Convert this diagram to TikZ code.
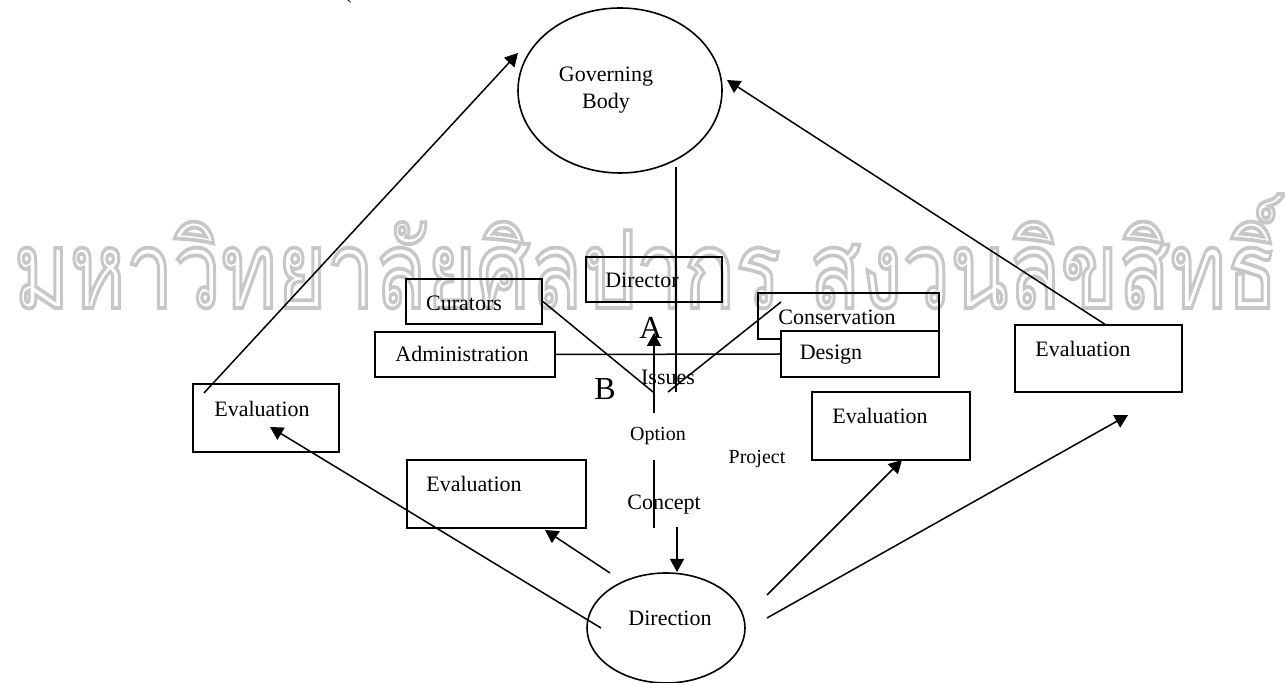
\documentclass[tikz,border=0pt]{standalone}
\usepackage{fontspec}
\setmainfont{Liberation Serif}
\newfontfamily\thaifont[Script=Thai]{Loma}
\usetikzlibrary{arrows.meta,shapes.geometric}

\begin{document}
\begin{tikzpicture}[x=0.5pt, y=-0.5pt, line width=0.75pt,
    >={Triangle[length=6.5pt,width=7pt]},
    boxsize/.style 2 args={minimum width=#1*0.5pt, minimum height=#2*0.5pt},
    box/.style={draw, rectangle, line width=0.85pt, inner sep=0pt},
    oval/.style={draw, ellipse, line width=0.8pt, inner sep=0pt},
    txt/.style={inner sep=0pt, font=\fontsize{11}{13.5}\selectfont},
    small/.style={inner sep=0pt, font=\fontsize{10}{12}\selectfont},
    big/.style={inner sep=0pt, font=\fontsize{16}{18}\selectfont}]

\useasboundingbox[fill=white] (0,0) rectangle (1285,683);

    % watermark
    \node[inner sep=0pt, anchor=base west, text=black!22] (mark) at (13,308)
        {\resizebox{632pt}{57pt}{\special{pdf:literal direct 1 Tr 0.35 w}\thaifont มหาวิทยาลัยศิลปากร สงวนลิขสิทธิ์\special{pdf:literal direct 0 Tr}}};
    \node[txt, anchor=base] (paren) at (348,-1) {(};

    % ovals
    \node[oval, boxsize={204}{165}] (gov) at (620,90.5) {};
    \node[txt, align=center] (govtext) at (606,90) {Governing\\Body};
    \node[oval, boxsize={158}{110}] (dirn) at (666,628) {};
    \node[txt] (dirntext) at (670,618) {Direction};

    % boxes
    \node[box, boxsize={136}{45}] (director) at (654,279.5) {};
    \node[txt] (directortext) at (642,280) {Director};
    \node[box, boxsize={136}{45}] (curators) at (474,301.5) {};
    \node[txt] (curatorstext) at (464,303) {Curators};
    \node[box, boxsize={180}{45}] (admin) at (465,354.5) {};
    \node[txt] (admintext) at (462,354) {Administration};
    \node[box, boxsize={181}{46}] (conserv) at (848.5,316) {};
    \node[txt] (conservtext) at (837,317) {Conservation};
    \node[box, fill=white, boxsize={158}{46}] (design) at (860,354) {};
    \node[txt] (designtext) at (831,355) {Design};

    \node[box, boxsize={146}{68}] (evalL) at (266,418) {};
    \node[txt] (evalLtext) at (262,409) {Evaluation};
    \node[box, boxsize={179}{68}] (evalM) at (496.5,494) {};
    \node[txt] (evalMtext) at (474,484) {Evaluation};
    \node[box, boxsize={158}{68}] (evalR) at (891,426) {};
    \node[txt] (evalRtext) at (880,416) {Evaluation};
    \node[box, boxsize={167}{67}] (evalTop) at (1098.5,358.5) {};
    \node[txt] (evalToptext) at (1083,349) {Evaluation};

    % labels in the middle
    \node[big] (labA) at (651,328) {A};
    \node[big] (labB) at (605,389) {B};
    \node[txt] (issues) at (668,377) {Issues};
    \node[small] (option) at (658,436) {Option};
    \node[txt] (concept) at (664,505) {Concept};
    \node[small] (project) at (757,459) {Project};

    % end points
    \coordinate (govfoot) at (676,167);
    \coordinate (hub) at (676,392);
    \coordinate (issL) at (653,392);
    \coordinate (issR) at (668,392);
    \coordinate (consL) at (781,302);
    \coordinate (optup) at (654,413);
    \coordinate (arrA) at (654,333);
    \coordinate (optdown) at (654,460);
    \coordinate (condown) at (654,528);
    \coordinate (conarr) at (677,527);
    \coordinate (dirtop) at (677,572);
    \coordinate (evLfoot) at (204,393);
    \coordinate (govW) at (518,53);
    \coordinate (evTfoot) at (1106,325);
    \coordinate (govE) at (727,80);
    \coordinate (dirL) at (601,628);
    \coordinate (dirUL) at (610,573);
    \coordinate (dirUR) at (767,595);
    \coordinate (dirR) at (767,618);
    \coordinate (tipL) at (270,427);
    \coordinate (tipM) at (545,530);
    \coordinate (tipR) at (902,460);
    \coordinate (tipFar) at (1128,415);

    % lines
    \draw (govfoot) -- (hub);
    \draw (admin.east) -- (design.west);
    \draw (curators.east) -- (issL);
    \draw (consL) -- (issR);
    \draw[->] (optup) -- (arrA);
    \draw (optdown) -- (condown);
    \draw[->] (conarr) -- (dirtop);

    % arrows
    \draw[->] (evLfoot) -- (govW);
    \draw[->] (evTfoot) -- (govE);
    \draw[->] (dirL) -- (tipL);
    \draw[->] (dirUL) -- (tipM);
    \draw[->] (dirUR) -- (tipR);
    \draw[->] (dirR) -- (tipFar);

\end{tikzpicture}
\end{document}
